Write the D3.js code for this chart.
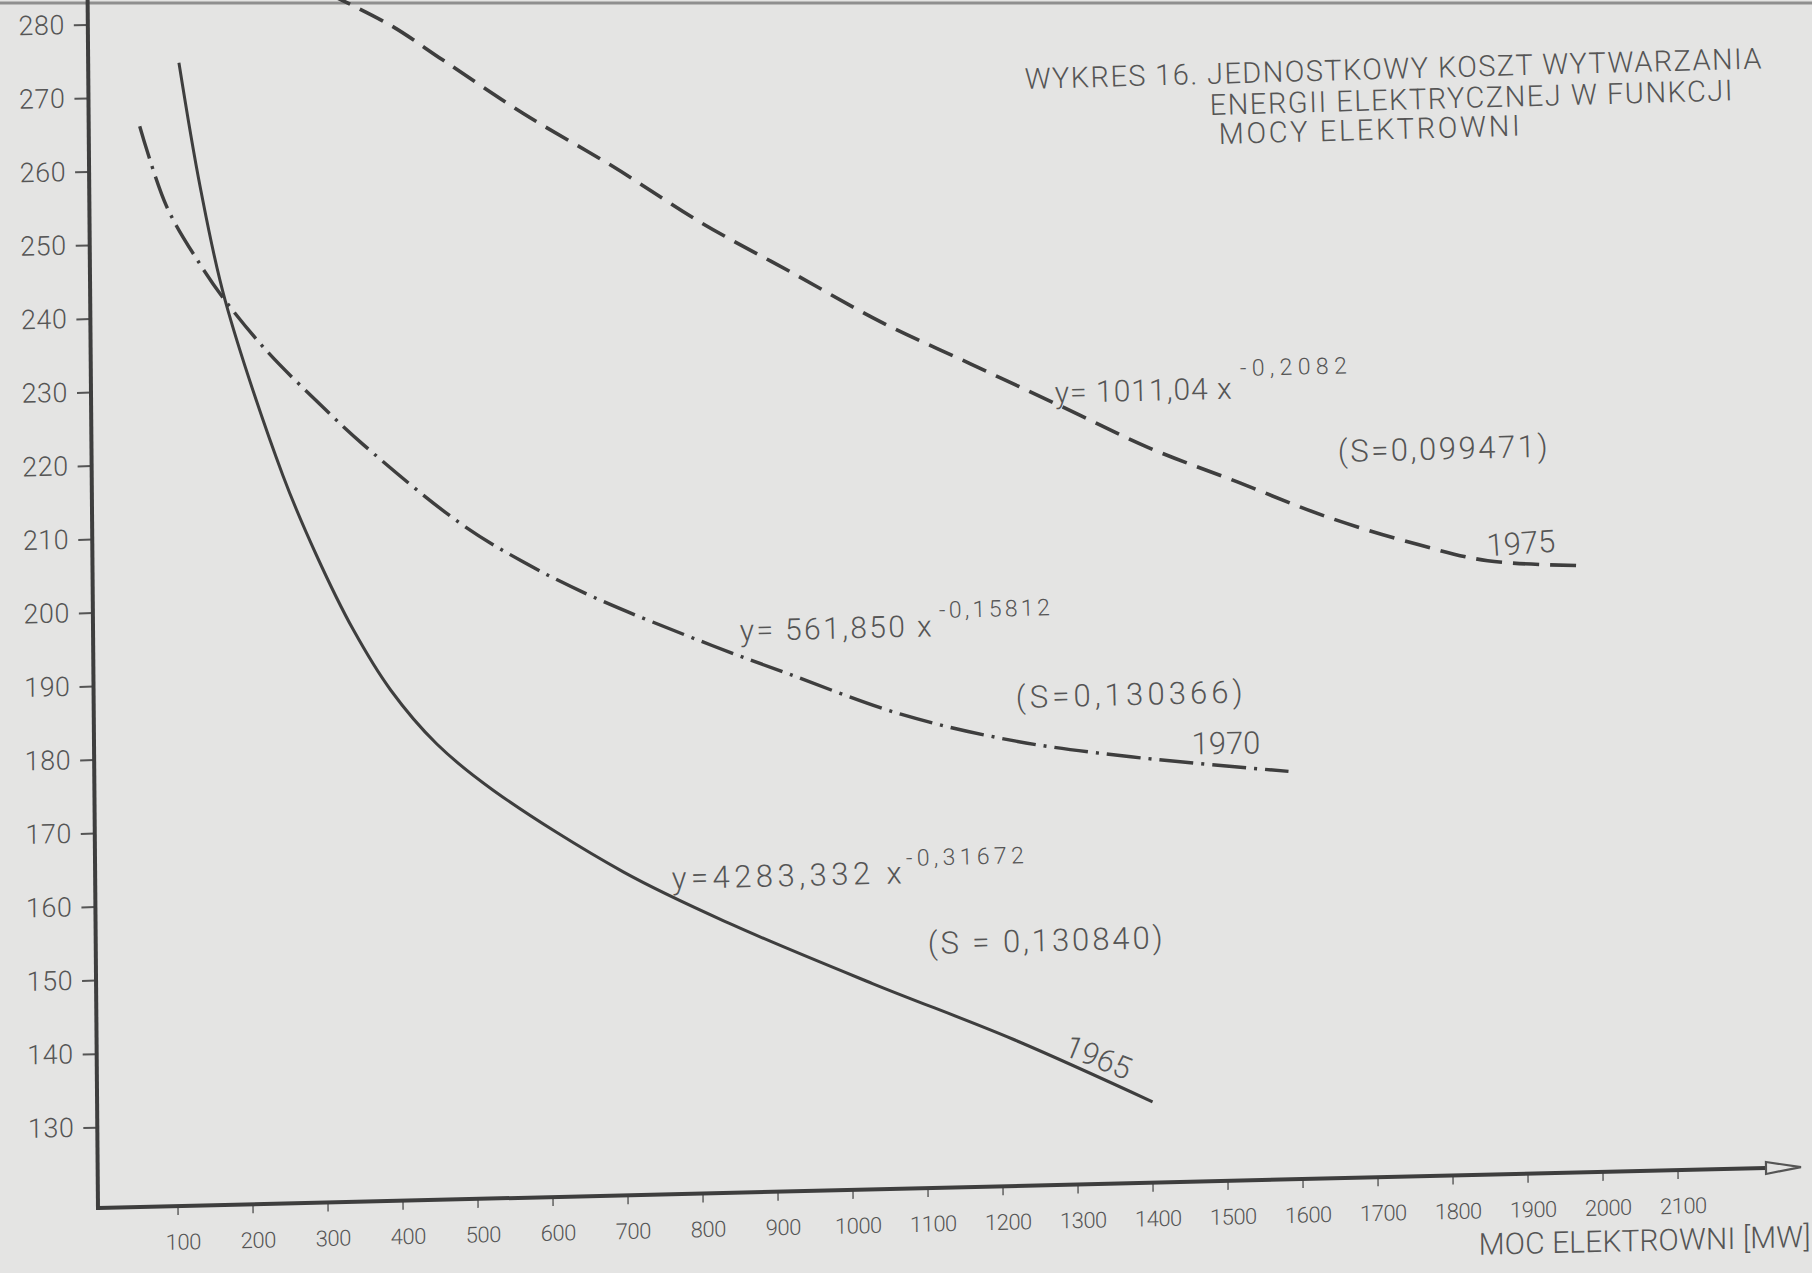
<!DOCTYPE html>
<html>
<head>
<meta charset="utf-8">
<script src="https://cdn.jsdelivr.net/npm/d3@7"></script>
<style>
  html, body { margin: 0; padding: 0; background: #e4e4e3; }
  svg { display: block; }
  text { font-family: Roboto, "DejaVu Sans", sans-serif; font-weight: 300; fill: #555; }
</style>
</head>
<body>
<svg id="chart" width="1812" height="1273"></svg>
<script>
// ---------------- DATA ----------------
const power1965 = [115, 142, 174, 249, 293, 341, 390, 451, 526, 698, 842, 1029, 1215, 1401];
const cost1965  = [274.5, 257.5, 242, 218, 207, 196.8, 188.5, 181, 174.5, 163, 155.5, 147, 139, 130];

const power1970 = [62, 97, 141, 174, 229, 295, 356, 484, 568, 661, 819, 918, 1071, 1223, 1376, 1586];
const cost1970  = [266, 255, 247, 242, 235, 228, 222, 211, 205.5, 200.5, 193.5, 189.5, 183.5, 179.5, 177, 174.5];

const power1975 = [313, 396, 467, 573, 692, 810, 929, 1047, 1166, 1285, 1403, 1522, 1640, 1759, 1854, 1985];
const cost1975  = [283.5, 279, 274, 266.5, 259, 251, 244, 237, 231, 225, 219, 214, 209, 205, 202.5, 201.5];

const years      = ["1965", "1970", "1975"];
const equations  = ["y=4283,332 x", "y= 561,850 x", "y= 1011,04 x"];
const exponents  = ["-0,31672", "-0,15812", "-0,2082"];
const fitErrors  = ["(S = 0,130840)", "(S=0,130366)", "(S=0,099471)"];

const xTicks = [100, 200, 300, 400, 500, 600, 700, 800, 900, 1000, 1100, 1200, 1300, 1400, 1500, 1600, 1700, 1800, 1900, 2000, 2100];
const yTicks = [130, 140, 150, 160, 170, 180, 190, 200, 210, 220, 230, 240, 250, 260, 270, 280];

const titleLines = ["WYKRES 16. JEDNOSTKOWY KOSZT WYTWARZANIA", "ENERGII ELEKTRYCZNEJ W FUNKCJI", "MOCY ELEKTROWNI"];
const xTitle = "MOC ELEKTROWNI [MW]";

// ---------------- LAYOUT / STYLE ----------------
const W = 1812, H = 1273;
const BG = "#e4e4e3";
const INK = "#3e3e3e";

const svg = d3.select("#chart");
svg.append("rect").attr("width", W).attr("height", H).attr("fill", BG);
svg.append("line").attr("x1", 0).attr("x2", W).attr("y1", 3).attr("y2", 3)
   .attr("stroke", "#8f8f8f").attr("stroke-width", 3);

// the hand-drawn axes are slightly tilted on the sheet
const g = svg.append("g")
  .attr("transform", "translate(98,1208) matrix(1,-0.024,0.0086,1,0,0)");

const x = d3.scaleLinear().domain([0, 2100]).range([4.5, 1579.5]);
const y = d3.scaleLinear().domain([119, 290]).range([0, -1257]);

// x axis
const xAxisG = g.append("g")
  .call(d3.axisBottom(x).tickValues(xTicks).tickFormat(d3.format("d"))
    .tickSize(9).tickPadding(19).tickSizeOuter(0));
xAxisG.attr("font-family", null).attr("font-size", null);
xAxisG.select(".domain").remove();
xAxisG.selectAll(".tick line").attr("stroke", "#6a6a6a").attr("stroke-width", 1.6);
xAxisG.selectAll(".tick text").attr("fill", "#5a5a5a").attr("dx", 5)
  .style("font-size", "22px").style("letter-spacing", "-0.5px");

// y axis
const yAxisG = g.append("g")
  .call(d3.axisLeft(y).tickValues(yTicks).tickSize(14).tickPadding(9).tickSizeOuter(0));
yAxisG.attr("font-family", null).attr("font-size", null);
yAxisG.select(".domain").remove();
yAxisG.selectAll(".tick line").attr("stroke", "#555").attr("stroke-width", 2);
yAxisG.selectAll(".tick text").attr("fill", "#555")
  .style("font-size", "27px").style("letter-spacing", "0.5px");

// main axis lines + arrow
g.append("line").attr("x1", 0).attr("y1", 0).attr("x2", 1668).attr("y2", 0)
  .attr("stroke", INK).attr("stroke-width", 4);
g.append("line").attr("x1", 0).attr("y1", 2).attr("x2", 0).attr("y2", -1300)
  .attr("stroke", INK).attr("stroke-width", 4);
g.append("path").attr("d", "M1668,-6 L1703,0 L1668,6 Z")
  .attr("fill", BG).attr("stroke", "#555").attr("stroke-width", 2.2);

// x axis title
g.append("text").attr("x", 1712).attr("y", 80).attr("text-anchor", "end")
  .attr("textLength", 332).attr("lengthAdjust", "spacing")
  .style("font-size", "30px").attr("fill", "#555").text(xTitle);

// curves
const series = [
  { power: power1965, cost: cost1965, dash: null, width: 3 },
  { power: power1970, cost: cost1970, dash: "34,8,3,8", width: 3.4 },
  { power: power1975, cost: cost1975, dash: "26,11", width: 3.6 }
];
const line = d3.line().x(d => x(d[0])).y(d => y(d[1])).curve(d3.curveCatmullRom.alpha(0.5));
series.forEach(s => {
  const pts = s.power.map((p, i) => [p, s.cost[i]]);
  g.append("path").attr("d", line(pts))
    .attr("fill", "none").attr("stroke", INK).attr("stroke-width", s.width)
    .attr("stroke-linecap", "butt")
    .attr("stroke-dasharray", s.dash);
});

// annotations (screen positions): [x, baseline y, width, font size]
const annLayout = [
  { eq: [672, 889, 230, 31], sup: [906, 866, 118, 23], s: [928, 954, 235, 31], yr: [1098, 1068, 22] },
  { eq: [740, 641, 192, 30], sup: [939, 618, 111, 23], s: [1016, 708, 227, 31], yr: [1226, 754, -1] },
  { eq: [1055, 403, 177, 30], sup: [1240, 376, 107, 23], s: [1338, 462, 210, 31], yr: [1521, 554, -4] }
];
const ann = svg.append("g");
years.forEach((yr, i) => {
  const L = annLayout[i];
  ann.append("text").attr("x", L.eq[0]).attr("y", L.eq[1])
    .attr("textLength", L.eq[2]).attr("lengthAdjust", "spacing")
    .attr("transform", `rotate(-1.4,${L.eq[0]},${L.eq[1]})`)
    .style("font-size", L.eq[3] + "px").text(equations[i]);
  ann.append("text").attr("x", L.sup[0]).attr("y", L.sup[1])
    .attr("textLength", L.sup[2]).attr("lengthAdjust", "spacing")
    .attr("transform", `rotate(-1.4,${L.sup[0]},${L.sup[1]})`)
    .style("font-size", L.sup[3] + "px").text(exponents[i]);
  ann.append("text").attr("x", L.s[0]).attr("y", L.s[1])
    .attr("textLength", L.s[2]).attr("lengthAdjust", "spacing")
    .attr("transform", `rotate(-1.4,${L.s[0]},${L.s[1]})`)
    .style("font-size", L.s[3] + "px").text(fitErrors[i]);
  ann.append("text").attr("x", L.yr[0]).attr("y", L.yr[1]).attr("text-anchor", "middle")
    .attr("transform", `rotate(${L.yr[2]},${L.yr[0]},${L.yr[1] - 10})`)
    .style("font-size", "31px").text(yr);
});

// title
const titleLayout = [[1025, 89, 737], [1210, 115, 523], [1219, 144, 301]];
titleLines.forEach((t, i) => {
  const [tx, ty, tl] = titleLayout[i];
  svg.append("text").attr("x", tx).attr("y", ty)
    .attr("textLength", tl).attr("lengthAdjust", "spacing")
    .attr("transform", `rotate(-1.6,${tx},${ty})`)
    .style("font-size", "29px").attr("fill", "#555").text(t);
});
</script>
</body>
</html>
